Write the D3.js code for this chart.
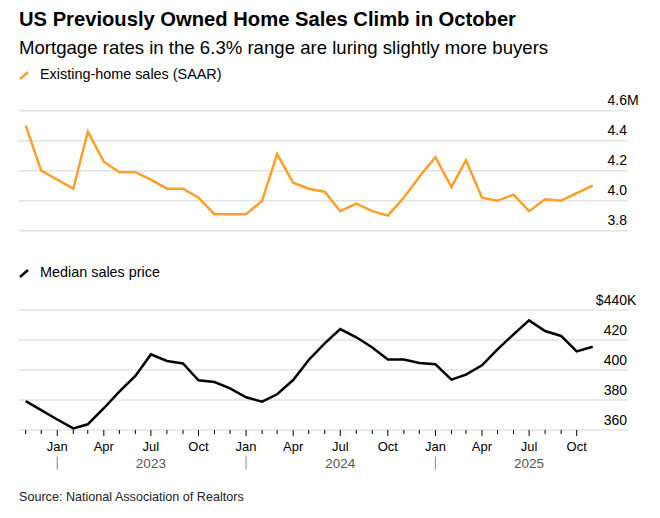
<!DOCTYPE html>
<html>
<head>
<meta charset="utf-8">
<script src="https://cdn.jsdelivr.net/npm/d3@7"></script>
<style>
  body { margin: 0; background: #fff; }
  svg { font-family: "Liberation Sans", Arial, sans-serif; }
</style>
</head>
<body>
<svg id="chart" width="660" height="518"></svg>
<script>
// monthly data, Oct 2022 .. Oct 2025
const startMonth = new Date(2022, 9, 1);
const homeSales = [4.50, 4.20, 4.14, 4.08, 4.46, 4.26, 4.19, 4.19, 4.14, 4.08,
                   4.08, 4.02, 3.91, 3.91, 3.91, 4.00, 4.31, 4.12, 4.08, 4.06,
                   3.93, 3.98, 3.93, 3.90, 4.02, 4.16, 4.29, 4.09, 4.27, 4.02,
                   4.00, 4.04, 3.93, 4.01, 4.00, 4.05, 4.10];
const medianPrice = [379.3, 373.3, 367.0, 361.1, 363.8, 374.5, 385.6, 396.0, 410.4, 406.0,
                     404.4, 393.1, 392.0, 387.8, 381.8, 378.9, 383.8, 393.3, 406.7, 417.8,
                     427.3, 421.8, 415.0, 407.0, 407.0, 404.7, 403.8, 393.6, 396.9, 403.1,
                     413.8, 423.8, 433.1, 426.0, 422.7, 412.4, 415.5];
const salesTicks = [3.8, 4.0, 4.2, 4.4, 4.6];
const priceTicks = [360, 380, 400, 420, 440];
const quarterNames = {0: "Jan", 3: "Apr", 6: "Jul", 9: "Oct"};
const years = [2023, 2024, 2025];

const svg = d3.select("#chart");
const gridLeft = 19, gridRight = 628, labelRight = 627;

// each month's value sits at the end of the month
const dates = homeSales.map((d, i) => d3.timeMonth.offset(startMonth, i + 1));
const x = d3.scaleTime()
    .domain([dates[0], dates[dates.length - 1]])
    .range([25.7, 592.7]);

// titles
svg.append("text").attr("x", 19).attr("y", 26)
    .attr("font-size", 20.2).attr("font-weight", "bold").attr("fill", "#000")
    .text("US Previously Owned Home Sales Climb in October");
svg.append("text").attr("x", 19).attr("y", 54)
    .attr("font-size", 18.6).attr("fill", "#000")
    .text("Mortgage rates in the 6.3% range are luring slightly more buyers");

function legend(y, color, label) {
    svg.append("line")
        .attr("x1", 20).attr("y1", y + 2).attr("x2", 28).attr("y2", y - 5)
        .attr("stroke", color).attr("stroke-width", 2.5);
    svg.append("text").attr("x", 40).attr("y", y + 2)
        .attr("font-size", 14.4).attr("fill", "#000").text(label);
}

function panel(values, ticks, fmt, y0, y1, color, prefix, suffix) {
    const y = d3.scaleLinear().domain(d3.extent(ticks)).range([y0, y1]);
    const g = svg.append("g");
    g.selectAll(".grid").data(ticks).enter().append("line")
        .attr("x1", gridLeft).attr("x2", gridRight)
        .attr("y1", d => y(d)).attr("y2", d => y(d))
        .attr("stroke", "#e3e3e3").attr("stroke-width", 1.5);
    const top = ticks[ticks.length - 1];
    g.selectAll(".lab").data(ticks).enter().append("text")
        .attr("x", labelRight).attr("y", d => y(d) - 5.5)
        .attr("text-anchor", "end").attr("font-size", 14).attr("fill", "#000")
        .text(d => (d === top ? prefix : "") + fmt(d));
    g.append("text").attr("x", labelRight).attr("y", y(top) - 5.5)
        .attr("font-size", 14).attr("fill", "#000").text(suffix);
    const line = d3.line().x((d, i) => x(dates[i])).y(d => y(d));
    g.append("path").datum(values)
        .attr("d", line).attr("fill", "none")
        .attr("stroke", color).attr("stroke-width", 2.5)
        .attr("stroke-linejoin", "miter");
}

legend(77, "#ff9f2a", "Existing-home sales (SAAR)");
panel(homeSales, salesTicks, d3.format(".1f"), 230.7, 110.7, "#ff9f2a", "", "M");

legend(275, "#000", "Median sales price");
panel(medianPrice, priceTicks, d3.format("d"), 430, 310, "#000", "$", "K");

// x axis
const axisY = 430;
const monthTicks = d3.timeMonth.range(new Date(2022, 10, 1), new Date(2025, 10, 1));
svg.selectAll(".mt").data(monthTicks).enter().append("line")
    .attr("x1", d => x(d)).attr("x2", d => x(d))
    .attr("y1", axisY)
    .attr("y2", d => quarterNames[d.getMonth()] ? axisY + 6 : axisY + 4)
    .attr("stroke", "#000").attr("stroke-width", 1);
svg.selectAll(".ml").data(monthTicks.filter(d => quarterNames[d.getMonth()])).enter()
    .append("text")
    .attr("x", d => x(d)).attr("y", 450.5)
    .attr("text-anchor", "middle").attr("font-size", 13).attr("fill", "#000")
    .text(d => quarterNames[d.getMonth()]);
svg.selectAll(".yl").data(years).enter().append("text")
    .attr("x", d => x(new Date(d, 6, 1))).attr("y", 467.5)
    .attr("text-anchor", "middle").attr("font-size", 13.5).attr("fill", "#555")
    .text(d => d);
svg.selectAll(".ys").data(years).enter().append("line")
    .attr("x1", d => x(new Date(d, 0, 1))).attr("x2", d => x(new Date(d, 0, 1)))
    .attr("y1", 456.5).attr("y2", 469.5)
    .attr("stroke", "#999").attr("stroke-width", 1.2);

svg.append("text").attr("x", 19).attr("y", 501)
    .attr("font-size", 12.6).attr("fill", "#222")
    .text("Source: National Association of Realtors");
</script>
</body>
</html>
